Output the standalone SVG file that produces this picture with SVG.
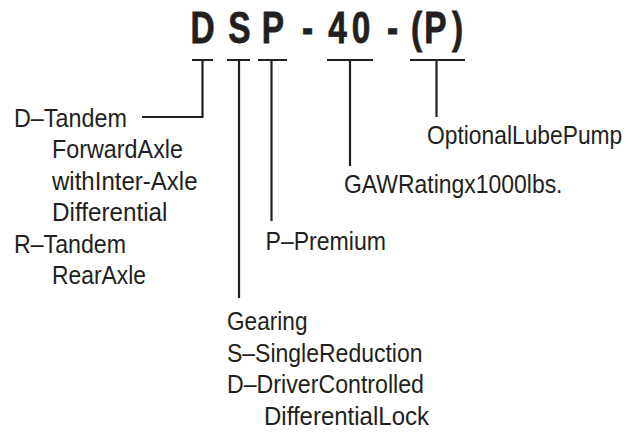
<svg xmlns="http://www.w3.org/2000/svg" width="630" height="432" viewBox="0 0 630 432">
<style>
.t{font-family:"Liberation Sans",Arial,sans-serif;font-size:25.5px;fill:#231f20}
.h{font-family:"Liberation Sans",Arial,sans-serif;font-size:44px;font-weight:bold;fill:#231f20;stroke:#231f20;stroke-width:0.8}
.c{fill:none;stroke:#231f20;stroke-width:2.2}
</style>
<rect width="630" height="432" fill="#ffffff"/>
<g id="title">
<text class="h" text-anchor="middle" transform="scale(0.76,1)" y="43" x="266.4 290.8 315.1 336.8 359.2 381.6 404.6 417.1 444.1 475 496.1 516.4 531.6 548 573 602">D S P - 40 - (P)</text>
</g>
<g id="connectors" class="c">
<path d="M192 60H213M202.5 60V117H142"/>
<path d="M227 60H250M239 60V298"/>
<path d="M258 60H287M271.5 60V221"/>
<path d="M327 60H373M350 60V166"/>
<path d="M410 60H465M436.5 60V117"/>
</g>
<g id="node-d-tandem">
<text class="t" x="14" y="126.5" textLength="113" lengthAdjust="spacingAndGlyphs">D–Tandem</text>
<text class="t" x="52" y="158" textLength="131" lengthAdjust="spacingAndGlyphs">ForwardAxle</text>
<text class="t" x="52" y="189.5" textLength="145.5" lengthAdjust="spacingAndGlyphs">withInter-Axle</text>
<text class="t" x="52" y="221" textLength="115.5" lengthAdjust="spacingAndGlyphs">Differential</text>
<text class="t" x="14" y="252.5" textLength="112" lengthAdjust="spacingAndGlyphs">R–Tandem</text>
<text class="t" x="52" y="284" textLength="94" lengthAdjust="spacingAndGlyphs">RearAxle</text>
</g>
<g id="node-gearing">
<text class="t" x="227" y="330" textLength="80.5" lengthAdjust="spacingAndGlyphs">Gearing</text>
<text class="t" x="227" y="361.7" textLength="195.5" lengthAdjust="spacingAndGlyphs">S–SingleReduction</text>
<text class="t" x="227" y="393.3" textLength="197" lengthAdjust="spacingAndGlyphs">D–DriverControlled</text>
<text class="t" x="264" y="425" textLength="165" lengthAdjust="spacingAndGlyphs">DifferentialLock</text>
</g>
<g id="node-premium">
<text class="t" x="265.5" y="250" textLength="120.5" lengthAdjust="spacingAndGlyphs">P–Premium</text>
</g>
<g id="node-gaw">
<text class="t" x="344" y="193" textLength="218.5" lengthAdjust="spacingAndGlyphs">GAWRatingx1000lbs.</text>
</g>
<g id="node-lube">
<text class="t" transform="translate(427 144) scale(0.895 1)" x="0" y="0">OptionalLubePump</text>
</g>
</svg>
